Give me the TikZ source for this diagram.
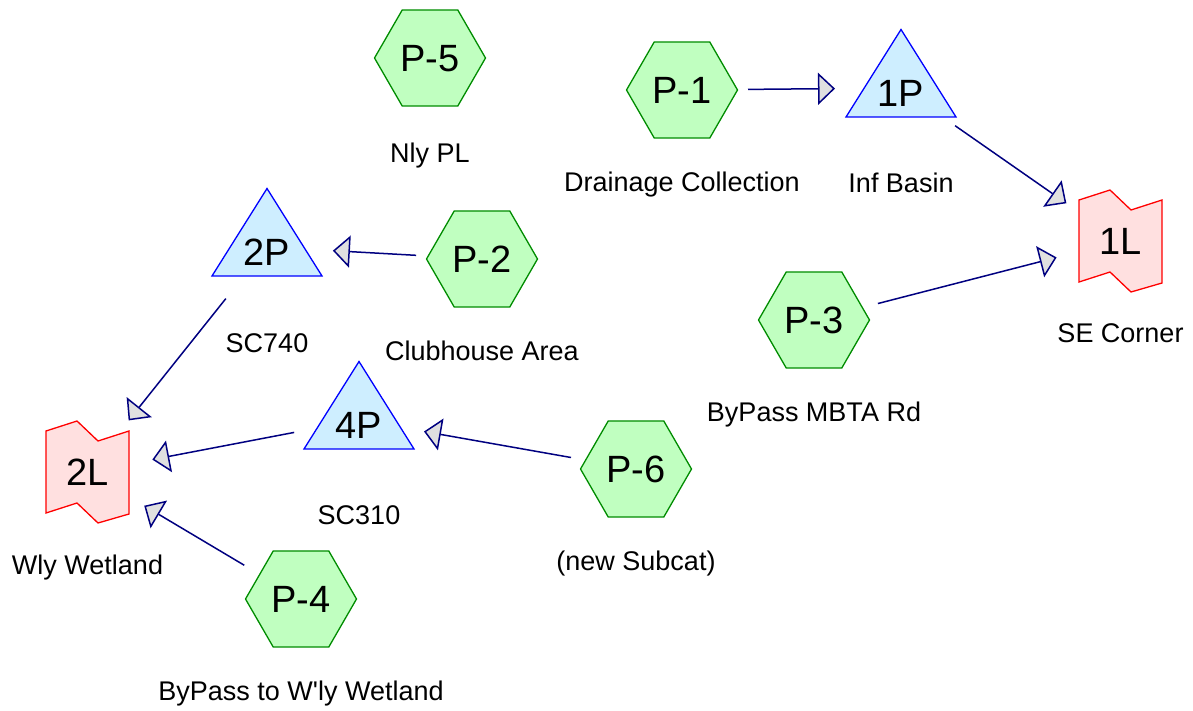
\documentclass[tikz,border=0pt]{standalone}
\usepackage{fontspec}
\setmainfont{Liberation Sans}
\usetikzlibrary{arrows.meta, shapes.geometric, positioning, calc}
\definecolor{subfill}{RGB}{192,255,192}
\definecolor{subline}{RGB}{0,140,0}
\definecolor{pondfill}{RGB}{206,238,255}
\definecolor{pondline}{RGB}{0,0,255}
\definecolor{linkfill}{RGB}{255,224,224}
\definecolor{linkline}{RGB}{255,0,0}
\definecolor{flowline}{RGB}{0,0,128}
\definecolor{headfill}{RGB}{224,224,224}

\begin{document}
\begin{tikzpicture}[x=1pt, y=-1pt, node distance=92pt, on grid,
    subcat/.style = {regular polygon, regular polygon sides=6, minimum size=111pt, inner sep=0pt,
                     fill=subfill, draw=subline, line width=1.3pt,
                     font=\fontsize{38}{44}\selectfont, text height=27.2pt, text depth=0pt},
    pond/.style = {rectangle, minimum width=114pt, minimum height=122pt, inner sep=0pt,
                   font=\fontsize{38}{44}\selectfont, text height=36.2pt, text depth=0pt,
                   path picture={\filldraw[fill=pondfill, draw=pondline, line width=1.3pt]
                     ($(path picture bounding box.center)+(0pt,58.5pt)$)
                     -- ($(path picture bounding box.center)+(55pt,-29pt)$)
                     -- ($(path picture bounding box.center)+(-55pt,-29pt)$) -- cycle;}},
    link/.style = {rectangle, minimum width=90pt, minimum height=108pt, inner sep=0pt,
                   font=\fontsize{38}{44}\selectfont, text height=27.2pt, text depth=0pt,
                   path picture={\filldraw[fill=linkfill, draw=linkline, line width=1.3pt]
                     ($(path picture bounding box.center)+(-41.5pt,41pt)$)
                     -- ($(path picture bounding box.center)+(-10.5pt,51pt)$)
                     -- ($(path picture bounding box.center)+(10.5pt,31pt)$)
                     -- ($(path picture bounding box.center)+(41.5pt,41pt)$)
                     -- ($(path picture bounding box.center)+(41.5pt,-42pt)$)
                     -- ($(path picture bounding box.center)+(10.5pt,-51pt)$)
                     -- ($(path picture bounding box.center)+(-10.5pt,-31pt)$)
                     -- ($(path picture bounding box.center)+(-41.5pt,-41pt)$) -- cycle;}},
    caption/.style = {font=\fontsize{27}{32}\selectfont, text height=19.3pt, text depth=0pt, inner sep=0pt},
    flow/.style = {draw=flowline, line width=1.5pt, shorten <=66pt, shorten >=66pt,
                   -{Triangle[length=17pt, width=32pt, fill=headfill]}}]
  \useasboundingbox (0,0) rectangle (1193,711);

  % subcatchments
  \node[subcat] (sub5) at (430,58)  {P-5};
  \node[subcat] (sub1) at (682,90)  {P-1};
  \node[subcat] (sub2) at (482,259) {P-2};
  \node[subcat] (sub3) at (814,320) {P-3};
  \node[subcat] (sub6) at (636,469) {P-6};
  \node[subcat] (sub4) at (301,599) {P-4};

  % ponds and links
  \node[pond] (pond1) at (901,88)  {1P};
  \node[pond] (pond2) at (267,247) {2P};
  \node[pond] (pond4) at (359,420) {4P};
  \node[link] (link1) at (1120.5,241) {1L};
  \node[link] (link2) at (87.5,472)   {2L};

  % captions
  \node[caption, below=95pt of sub5]  (cap5) {Nly PL};
  \node[caption, below=of sub1]       (cap1) {Drainage Collection};
  \node[caption, below=of sub2]       (cap2) {Clubhouse Area};
  \node[caption, below=of sub3]       (cap3) {ByPass MBTA Rd};
  \node[caption, below=of sub6]       (cap6) {(new Subcat)};
  \node[caption, below=of sub4]       (cap4) {ByPass to W\textquotesingle ly Wetland};
  \node[caption, below=95pt of pond1] (capp1) {Inf Basin};
  \node[caption, below=96pt of pond2] (capp2) {SC740};
  \node[caption, below=95pt of pond4] (capp4) {SC310};
  \node[caption, below=of link1]      (capl1) {SE Corner};
  \node[caption, below=93pt of link2] (capl2) {Wly Wetland};

  % flows
  \draw[flow] (sub1.center)  -- (pond1.center);
  \draw[flow] (pond1.center) -- (link1.center);
  \draw[flow] (sub3.center)  -- (link1.center);
  \draw[flow] (sub2.center)  -- (pond2.center);
  \draw[flow] (pond2.center) -- (link2.center);
  \draw[flow] (pond4.center) -- (link2.center);
  \draw[flow] (sub6.center)  -- (pond4.center);
  \draw[flow] (sub4.center)  -- (link2.center);
\end{tikzpicture}
\end{document}
